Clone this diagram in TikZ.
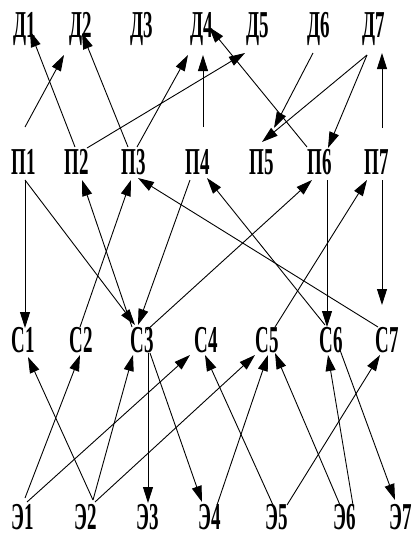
\documentclass[tikz,border=0pt]{standalone}
\usepackage{fontspec}
\newfontfamily\lblfont[FakeStretch=0.5]{Liberation Serif Bold}
\usetikzlibrary{arrows.meta}
\begin{document}
\begin{tikzpicture}[x=1pt,y=-1pt,
  lbl/.style={inner sep=0pt,anchor=base,font=\lblfont\fontsize{38}{40}\selectfont},
  arr/.style={line width=0.9pt,-{Triangle[length=16pt,width=10pt]}}]
\useasboundingbox (0,0) rectangle (414,536);
% row D
\node[lbl] (d1) at (25,37) {Д1};
\node[lbl] (d2) at (81,37) {Д2};
\node[lbl] (d3) at (142,37) {Д3};
\node[lbl] (d4) at (202,37) {Д4};
\node[lbl] (d5) at (258,37) {Д5};
\node[lbl] (d6) at (319,37) {Д6};
\node[lbl] (d7) at (374,37) {Д7};
% row P
\node[lbl] (p1) at (24,174) {П1};
\node[lbl] (p2) at (77,174) {П2};
\node[lbl] (p3) at (134,174) {П3};
\node[lbl] (p4) at (198,174) {П4};
\node[lbl] (p5) at (262,174) {П5};
\node[lbl] (p6) at (320,174) {П6};
\node[lbl] (p7) at (377,174) {П7};
% row C
\node[lbl] (c1) at (23,352) {С1};
\node[lbl] (c2) at (81,352) {С2};
\node[lbl] (c3) at (142,352) {С3};
\node[lbl] (c4) at (206,352) {С4};
\node[lbl] (c5) at (267,352) {С5};
\node[lbl] (c6) at (331,352) {С6};
\node[lbl] (c7) at (387,352) {С7};
% row E
\node[lbl] (e1) at (23,529) {Э1};
\node[lbl] (e2) at (86,529) {Э2};
\node[lbl] (e3) at (148,529) {Э3};
\node[lbl] (e4) at (210,529) {Э4};
\node[lbl] (e5) at (277,529) {Э5};
\node[lbl] (e6) at (345,529) {Э6};
\node[lbl] (e7) at (401,529) {Э7};
% P -> D
\draw[arr] ([shift={(1,-47)}]p1.base) -- ([shift={(-17,18)}]d2.base);
\draw[arr] ([shift={(-2,-27)}]p2.base) -- ([shift={(5,-6)}]d1.base);
\draw[arr] ([shift={(-6,-27)}]p3.base) -- ([shift={(1,-4)}]d2.base);
\draw[arr] ([shift={(3,-27)}]p3.base) -- ([shift={(-14,18)}]d4.base);
\draw[arr] ([shift={(10,-26)}]p2.base) -- ([shift={(-13,16)}]d5.base);
\draw[arr] ([shift={(5,-47)}]p4.base) -- ([shift={(1,18)}]d4.base);
\draw[arr] ([shift={(-13,-27)}]p6.base) -- ([shift={(7,-10)}]d4.base);
\draw[arr] ([shift={(-6,16)}]d6.base) -- ([shift={(12,-46)}]p5.base);
\draw[arr] ([shift={(-7,18)}]d7.base) -- ([shift={(0,-32)}]p5.base);
\draw[arr] ([shift={(-7,18)}]d7.base) -- ([shift={(8,-26)}]p6.base);
\draw[arr] ([shift={(5,-46)}]p7.base) -- ([shift={(8,16)}]d7.base);
% P <-> C
\draw[arr] ([shift={(1,6)}]p1.base) -- ([shift={(2,-24)}]c1.base);
\draw[arr] ([shift={(1,6)}]p1.base) -- ([shift={(-7,-27)}]c3.base);
\draw[arr] ([shift={(-10,-25)}]c3.base) -- ([shift={(5,6)}]p2.base);
\draw[arr] ([shift={(-1,-25)}]c2.base) -- ([shift={(-3,6)}]p3.base);
\draw[arr] ([shift={(-8,6)}]p4.base) -- ([shift={(-4,-27)}]c3.base);
\draw[arr] ([shift={(5,-22)}]c3.base) -- ([shift={(-8,6)}]p6.base);
\draw[arr] ([shift={(-6,-27)}]c6.base) -- ([shift={(9,4)}]p4.base);
\draw[arr] ([shift={(-9,-25)}]c7.base) -- ([shift={(4,4)}]p3.base);
\draw[arr] ([shift={(8,-25)}]c5.base) -- ([shift={(-10,6)}]p7.base);
\draw[arr] ([shift={(7,6)}]p6.base) -- ([shift={(-4,-25)}]c6.base);
\draw[arr] ([shift={(5,6)}]p7.base) -- ([shift={(-5,-47)}]c7.base);
% E <-> C
\draw[arr] ([shift={(2,-31)}]e1.base) -- ([shift={(-1,3)}]c2.base);
\draw[arr] ([shift={(7,-29)}]e2.base) -- ([shift={(5,5)}]c1.base);
\draw[arr] ([shift={(4,-27)}]e1.base) -- ([shift={(-16,3)}]c4.base);
\draw[arr] ([shift={(7,-29)}]e2.base) -- ([shift={(-9,3)}]c3.base);
\draw[arr] ([shift={(9,-27)}]e2.base) -- ([shift={(-12,3)}]c5.base);
\draw[arr] ([shift={(6,1)}]c3.base) -- ([shift={(0,-26)}]e3.base);
\draw[arr] ([shift={(8,1)}]c3.base) -- ([shift={(-8,-27)}]e4.base);
\draw[arr] ([shift={(7,-24)}]e4.base) -- ([shift={(1,3)}]c5.base);
\draw[arr] ([shift={(-4,-24)}]e5.base) -- ([shift={(-1,3)}]c4.base);
\draw[arr] ([shift={(10,-24)}]e5.base) -- ([shift={(-7,3)}]c7.base);
\draw[arr] ([shift={(-5,-24)}]e6.base) -- ([shift={(8,1)}]c5.base);
\draw[arr] ([shift={(8,-24)}]e6.base) -- ([shift={(-3,3)}]c6.base);
\draw[arr] ([shift={(9,-2)}]c6.base) -- ([shift={(-6,-29)}]e7.base);
\end{tikzpicture}
\end{document}
